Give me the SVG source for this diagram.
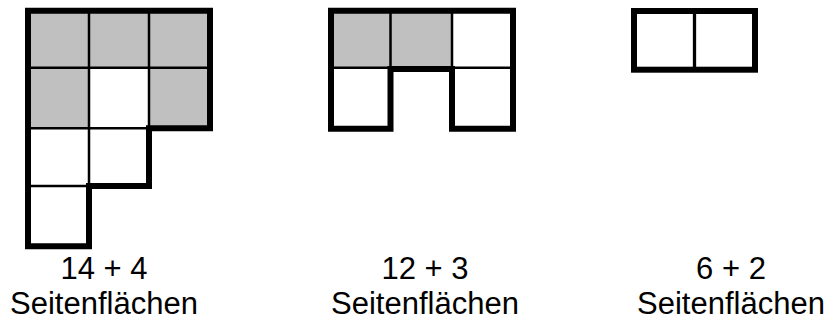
<svg xmlns="http://www.w3.org/2000/svg" width="832" height="320" viewBox="0 0 832 320">
<style>
.bg{fill:#fff}
.gray{fill:#c0c0c0}
.thin{stroke:#000;stroke-width:2.5;fill:none}
.thick{stroke:#000;stroke-width:6;fill:none;stroke-linejoin:miter;stroke-linecap:square}
.lbl{font-family:"Liberation Sans",Arial,sans-serif;font-size:31px;fill:#000;text-anchor:middle}
</style>
<rect class="bg" x="0" y="0" width="832" height="320"/>
<g id="shape1">
<rect class="gray" x="28" y="10.7" width="182" height="57.1"/>
<rect class="gray" x="28" y="67.8" width="61" height="60.5"/>
<rect class="gray" x="149" y="67.8" width="61" height="60.5"/>
<path class="thin" d="M89,10.7V186M149,10.7V128.3M28,67.8H210M28,128.3H149M28,186H89"/>
<path class="thick" d="M28,10.7H210V128.3H149V186H89V246.3H28Z"/>
</g>
<g id="shape2">
<rect class="gray" x="331" y="10.7" width="121" height="57.1"/>
<path class="thin" d="M390.5,10.7V69M452,10.7V69M331,67.8H390.5M452,67.8H513"/>
<path class="thick" d="M331,10.7H513V128.7H452V69H390.5V128.7H331Z"/>
</g>
<g id="shape3">
<path class="thin" d="M694.5,11V69.7" style="stroke-width:3.3"/>
<rect class="thick" x="634" y="11" width="121" height="58.7"/>
</g>
<g id="label1">
<text class="lbl" x="104" y="279">14 + 4</text>
<text class="lbl" x="104" y="313.5">Seitenflächen</text>
</g>
<g id="label2">
<text class="lbl" x="425" y="279">12 + 3</text>
<text class="lbl" x="425" y="313.5">Seitenflächen</text>
</g>
<g id="label3">
<text class="lbl" x="731" y="279">6 + 2</text>
<text class="lbl" x="731" y="313.5">Seitenflächen</text>
</g>
</svg>
